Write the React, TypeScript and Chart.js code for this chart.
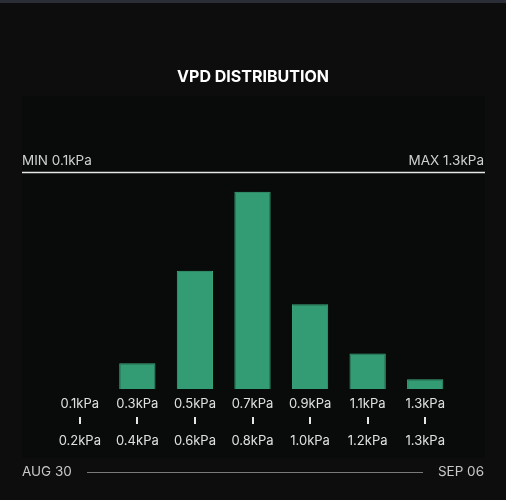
import React, { useEffect, useRef } from "react";
import { Chart, registerables } from "chart.js";

Chart.register(...registerables);

const categories = ["0.1kPa", "0.3kPa", "0.5kPa", "0.7kPa", "0.9kPa", "1.1kPa", "1.3kPa"];
const upperLabels = ["0.1kPa", "0.3kPa", "0.5kPa", "0.7kPa", "0.9kPa", "1.1kPa", "1.3kPa"];
const lowerLabels = ["0.2kPa", "0.4kPa", "0.6kPa", "0.8kPa", "1.0kPa", "1.2kPa", "1.3kPa"];
const values = [0, 13, 60, 100, 43, 18, 5];
const yMax = 110;
const title = "VPD DISTRIBUTION";
const minLabel = "MIN 0.1kPa";
const maxLabel = "MAX 1.3kPa";
const startDate = "AUG 30";
const endDate = "SEP 06";

const W = 506;
const H = 500;
const FONT = "Inter, 'Noto Sans', sans-serif";

const decorPlugin = {
  id: "decor",
  beforeDraw(chart: any) {
    const ctx = chart.ctx;
    ctx.save();
    ctx.fillStyle = "#0d0d0d";
    ctx.fillRect(0, 0, W, H);
    ctx.fillStyle = "#2b2e36";
    ctx.fillRect(0, 0, W, 3);
    ctx.fillStyle = "#080b09";
    ctx.fillRect(22, 96, 463, 362);
    ctx.restore();
  },
  afterDraw(chart: any) {
    const ctx = chart.ctx;
    const area = chart.chartArea;
    const xs = chart.scales.x;
    ctx.save();
    // title
    ctx.fillStyle = "#ffffff";
    ctx.font = `bold 16px ${FONT}`;
    ctx.textAlign = "center";
    ctx.textBaseline = "middle";
    ctx.fillText(title, W / 2, 77);
    // min / max
    ctx.font = `13.5px ${FONT}`;
    ctx.fillStyle = "#d0d0d0";
    ctx.textBaseline = "middle";
    ctx.textAlign = "left";
    ctx.fillText(minLabel, 22, 161);
    ctx.textAlign = "right";
    ctx.fillText(maxLabel, 484, 161);
    // top line
    ctx.strokeStyle = "#e6e6e6";
    ctx.lineWidth = 1.5;
    ctx.beginPath();
    ctx.moveTo(22, area.top + 0.5);
    ctx.lineTo(485, area.top + 0.5);
    ctx.stroke();
    // tick marks between labels
    ctx.fillStyle = "#e6e6e6";
    categories.forEach((_, i) => {
      const px = xs.getPixelForValue(i);
      ctx.fillRect(Math.round(px) - 1, 417, 2, 7);
    });
    // footer
    ctx.font = `13.5px ${FONT}`;
    ctx.fillStyle = "#c8c8c8";
    ctx.textAlign = "left";
    ctx.fillText(startDate, 22, 472);
    ctx.textAlign = "right";
    ctx.fillText(endDate, 484, 472);
    ctx.strokeStyle = "#7a7a7a";
    ctx.lineWidth = 1;
    ctx.beginPath();
    ctx.moveTo(87, 472.5);
    ctx.lineTo(423, 472.5);
    ctx.stroke();
    ctx.restore();
  },
};

export default function App() {
  const ref = useRef<HTMLCanvasElement | null>(null);
  useEffect(() => {
    document.body.style.margin = "0";
    document.body.style.background = "#0d0d0d";
    const canvas = ref.current;
    if (!canvas) return;
    const chart = new Chart(canvas, {
      type: "bar",
      data: {
        labels: categories,
        datasets: [
          {
            data: values,
            backgroundColor: "#339c74",
            borderColor: "#3dab80",
            borderWidth: 1,
            categoryPercentage: 1,
            barPercentage: 0.63,
          },
        ],
      },
      options: {
        responsive: false,
        animation: false,
        devicePixelRatio: 1,
        layout: { padding: { left: 51, right: 52, top: 172, bottom: 51 } },
        plugins: {
          legend: { display: false },
          title: { display: false },
          tooltip: { enabled: false },
        },
        scales: {
          x: {
            grid: { display: false, drawTicks: false },
            border: { display: false },
            ticks: {
              color: "#e0e0e0",
              font: { family: FONT, size: 13, lineHeight: 18.5 / 13 },
              padding: 5.75,
              maxRotation: 0,
              autoSkip: false,
              callback: (_v: any, i: number) => [upperLabels[i], "", lowerLabels[i]],
            },
            afterFit: (s: any) => {
              s.height = 60;
            },
          },
          y: {
            display: false,
            min: 0,
            max: yMax,
          },
        },
      },
      plugins: [decorPlugin],
    });
    return () => chart.destroy();
  }, []);
  return <canvas ref={ref} width={W} height={H} style={{ display: "block", width: W, height: H }} />;
}
